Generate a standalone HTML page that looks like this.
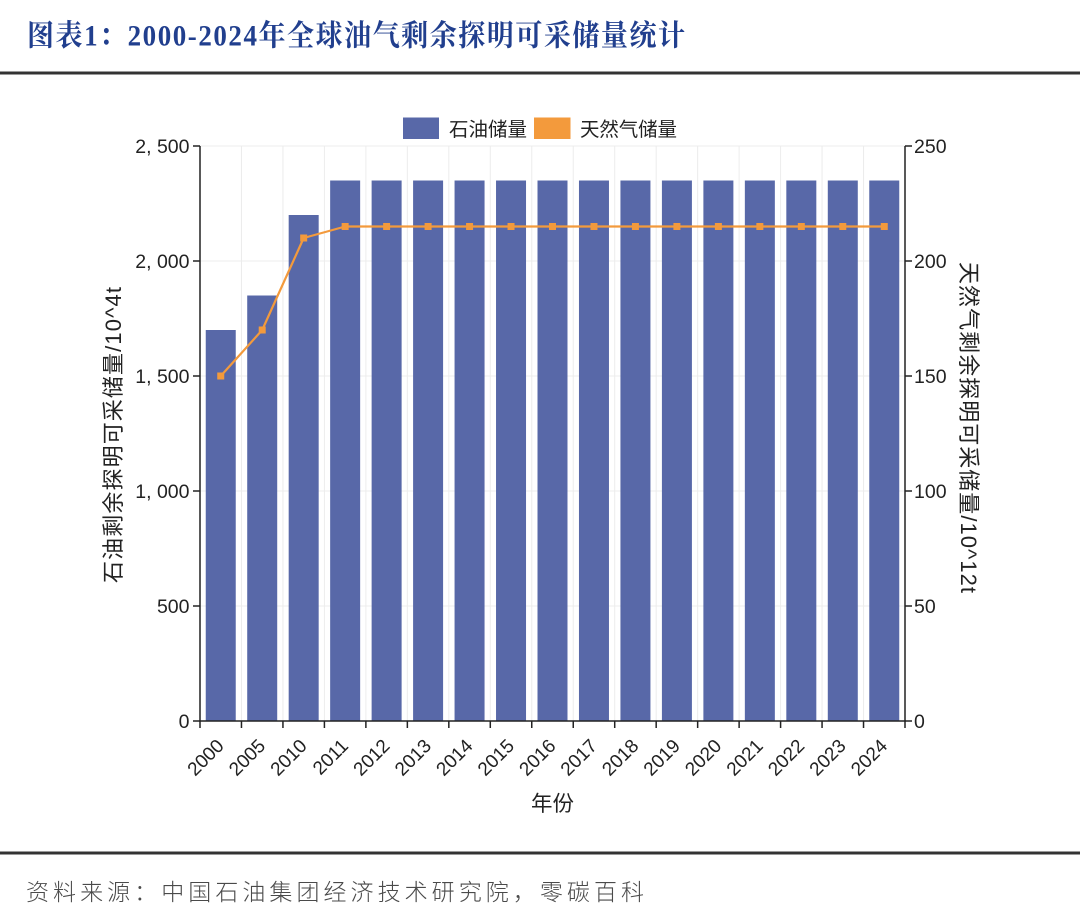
<!DOCTYPE html>
<html>
<head>
<meta charset="utf-8">
<style>
  html, body { margin: 0; padding: 0; background: #ffffff; }
  body { width: 1080px; height: 924px; overflow: hidden; }
  svg { display: block; }
  .sans { font-family: "Liberation Sans", "Noto Sans CJK SC", sans-serif; }
  .cjk { font-family: "Liberation Sans", "Noto Sans CJK SC", sans-serif; }
  .serif { font-family: "Liberation Serif", "Noto Serif CJK SC", serif; }
</style>
</head>
<body>
<svg width="1080" height="924" viewBox="0 0 1080 924" xmlns="http://www.w3.org/2000/svg">
  <rect x="0" y="0" width="1080" height="924" fill="#ffffff"/>

  <!-- Title -->
  <g transform="translate(0,45.5) scale(1,1.1)">
    <text class="serif" x="27" y="0" font-size="27" font-weight="bold" fill="#213f8e" textLength="658" lengthAdjust="spacing">图表1：2000-2024年全球油气剩余探明可采储量统计</text>
  </g>
  <rect x="0" y="71.5" width="1080" height="3" fill="#333333"/>

  <!-- Legend -->
  <rect x="403" y="117.5" width="36" height="21.5" fill="#5868a8"/>
  <text class="cjk" x="449" y="136" font-size="19.5" fill="#222" textLength="78" lengthAdjust="spacing">石油储量</text>
  <rect x="534" y="117.5" width="36.5" height="21.5" fill="#f39a3c"/>
  <text class="cjk" x="580" y="136" font-size="19.5" fill="#222" textLength="97" lengthAdjust="spacing">天然气储量</text>

  <!-- Grid -->
  <g stroke="#ececec" stroke-width="1">
    <line x1="200" y1="146" x2="905" y2="146"/>
    <line x1="200" y1="261" x2="905" y2="261"/>
    <line x1="200" y1="376" x2="905" y2="376"/>
    <line x1="200" y1="491" x2="905" y2="491"/>
    <line x1="200" y1="606" x2="905" y2="606"/>
    <line x1="241.47" y1="146" x2="241.47" y2="721"/>
    <line x1="282.94" y1="146" x2="282.94" y2="721"/>
    <line x1="324.41" y1="146" x2="324.41" y2="721"/>
    <line x1="365.88" y1="146" x2="365.88" y2="721"/>
    <line x1="407.35" y1="146" x2="407.35" y2="721"/>
    <line x1="448.82" y1="146" x2="448.82" y2="721"/>
    <line x1="490.29" y1="146" x2="490.29" y2="721"/>
    <line x1="531.76" y1="146" x2="531.76" y2="721"/>
    <line x1="573.24" y1="146" x2="573.24" y2="721"/>
    <line x1="614.71" y1="146" x2="614.71" y2="721"/>
    <line x1="656.18" y1="146" x2="656.18" y2="721"/>
    <line x1="697.65" y1="146" x2="697.65" y2="721"/>
    <line x1="739.12" y1="146" x2="739.12" y2="721"/>
    <line x1="780.59" y1="146" x2="780.59" y2="721"/>
    <line x1="822.06" y1="146" x2="822.06" y2="721"/>
    <line x1="863.53" y1="146" x2="863.53" y2="721"/>
  </g>

  <!-- Bars -->
  <g fill="#5868a8">
    <rect x="205.74" y="330" width="30" height="391"/>
    <rect x="247.21" y="295.5" width="30" height="425.5"/>
    <rect x="288.68" y="215" width="30" height="506"/>
    <rect x="330.15" y="180.5" width="30" height="540.5"/>
    <rect x="371.62" y="180.5" width="30" height="540.5"/>
    <rect x="413.09" y="180.5" width="30" height="540.5"/>
    <rect x="454.56" y="180.5" width="30" height="540.5"/>
    <rect x="496.03" y="180.5" width="30" height="540.5"/>
    <rect x="537.5" y="180.5" width="30" height="540.5"/>
    <rect x="578.97" y="180.5" width="30" height="540.5"/>
    <rect x="620.44" y="180.5" width="30" height="540.5"/>
    <rect x="661.91" y="180.5" width="30" height="540.5"/>
    <rect x="703.38" y="180.5" width="30" height="540.5"/>
    <rect x="744.85" y="180.5" width="30" height="540.5"/>
    <rect x="786.32" y="180.5" width="30" height="540.5"/>
    <rect x="827.79" y="180.5" width="30" height="540.5"/>
    <rect x="869.26" y="180.5" width="30" height="540.5"/>
  </g>

  <!-- Gas line -->
  <polyline fill="none" stroke="#f39a3c" stroke-width="2.2" stroke-linejoin="round"
    points="220.74,376 262.21,330 303.68,238 345.15,226.5 386.62,226.5 428.09,226.5 469.56,226.5 511.03,226.5 552.5,226.5 593.97,226.5 635.44,226.5 676.91,226.5 718.38,226.5 759.85,226.5 801.32,226.5 842.79,226.5 884.26,226.5"/>
  <g fill="#f39a3c">
    <rect x="217.24" y="372.5" width="7" height="7"/>
    <rect x="258.71" y="326.5" width="7" height="7"/>
    <rect x="300.18" y="234.5" width="7" height="7"/>
    <rect x="341.65" y="223" width="7" height="7"/>
    <rect x="383.12" y="223" width="7" height="7"/>
    <rect x="424.59" y="223" width="7" height="7"/>
    <rect x="466.06" y="223" width="7" height="7"/>
    <rect x="507.53" y="223" width="7" height="7"/>
    <rect x="549" y="223" width="7" height="7"/>
    <rect x="590.47" y="223" width="7" height="7"/>
    <rect x="631.94" y="223" width="7" height="7"/>
    <rect x="673.41" y="223" width="7" height="7"/>
    <rect x="714.88" y="223" width="7" height="7"/>
    <rect x="756.35" y="223" width="7" height="7"/>
    <rect x="797.82" y="223" width="7" height="7"/>
    <rect x="839.29" y="223" width="7" height="7"/>
    <rect x="880.76" y="223" width="7" height="7"/>
  </g>

  <!-- Axes -->
  <g stroke="#222" stroke-width="1.5" fill="none">
    <line x1="200" y1="146" x2="200" y2="721.75"/>
    <line x1="905" y1="146" x2="905" y2="721.75"/>
    <line x1="199.25" y1="721" x2="905.75" y2="721"/>
    <line x1="193" y1="146" x2="200" y2="146"/>
    <line x1="193" y1="261" x2="200" y2="261"/>
    <line x1="193" y1="376" x2="200" y2="376"/>
    <line x1="193" y1="491" x2="200" y2="491"/>
    <line x1="193" y1="606" x2="200" y2="606"/>
    <line x1="193" y1="721" x2="200" y2="721"/>
    <line x1="905" y1="146" x2="912" y2="146"/>
    <line x1="905" y1="261" x2="912" y2="261"/>
    <line x1="905" y1="376" x2="912" y2="376"/>
    <line x1="905" y1="491" x2="912" y2="491"/>
    <line x1="905" y1="606" x2="912" y2="606"/>
    <line x1="905" y1="721" x2="912" y2="721"/>
    <line x1="200" y1="721" x2="200" y2="728"/>
    <line x1="241.47" y1="721" x2="241.47" y2="728"/>
    <line x1="282.94" y1="721" x2="282.94" y2="728"/>
    <line x1="324.41" y1="721" x2="324.41" y2="728"/>
    <line x1="365.88" y1="721" x2="365.88" y2="728"/>
    <line x1="407.35" y1="721" x2="407.35" y2="728"/>
    <line x1="448.82" y1="721" x2="448.82" y2="728"/>
    <line x1="490.29" y1="721" x2="490.29" y2="728"/>
    <line x1="531.76" y1="721" x2="531.76" y2="728"/>
    <line x1="573.24" y1="721" x2="573.24" y2="728"/>
    <line x1="614.71" y1="721" x2="614.71" y2="728"/>
    <line x1="656.18" y1="721" x2="656.18" y2="728"/>
    <line x1="697.65" y1="721" x2="697.65" y2="728"/>
    <line x1="739.12" y1="721" x2="739.12" y2="728"/>
    <line x1="780.59" y1="721" x2="780.59" y2="728"/>
    <line x1="822.06" y1="721" x2="822.06" y2="728"/>
    <line x1="863.53" y1="721" x2="863.53" y2="728"/>
    <line x1="905" y1="721" x2="905" y2="728"/>
  </g>

  <!-- Left tick labels -->
  <g class="sans" font-size="19.5" fill="#222" text-anchor="end">
    <text x="189.5" y="153">2, 500</text>
    <text x="189.5" y="268">2, 000</text>
    <text x="189.5" y="383">1, 500</text>
    <text x="189.5" y="498">1, 000</text>
    <text x="189.5" y="613">500</text>
    <text x="189.5" y="728">0</text>
  </g>

  <!-- Right tick labels -->
  <g class="sans" font-size="19.5" fill="#222">
    <text x="914" y="153">250</text>
    <text x="914" y="268">200</text>
    <text x="914" y="383">150</text>
    <text x="914" y="498">100</text>
    <text x="914" y="613">50</text>
    <text x="914" y="728">0</text>
  </g>

  <!-- X tick labels -->
  <g class="sans" font-size="19" fill="#222" text-anchor="end">
    <text transform="translate(225,747) rotate(-45)">2000</text>
    <text transform="translate(266.5,747) rotate(-45)">2005</text>
    <text transform="translate(308,747) rotate(-45)">2010</text>
    <text transform="translate(349.4,747) rotate(-45)">2011</text>
    <text transform="translate(390.9,747) rotate(-45)">2012</text>
    <text transform="translate(432.4,747) rotate(-45)">2013</text>
    <text transform="translate(473.8,747) rotate(-45)">2014</text>
    <text transform="translate(515.3,747) rotate(-45)">2015</text>
    <text transform="translate(556.8,747) rotate(-45)">2016</text>
    <text transform="translate(598.2,747) rotate(-45)">2017</text>
    <text transform="translate(639.7,747) rotate(-45)">2018</text>
    <text transform="translate(681.2,747) rotate(-45)">2019</text>
    <text transform="translate(722.6,747) rotate(-45)">2020</text>
    <text transform="translate(764.1,747) rotate(-45)">2021</text>
    <text transform="translate(805.6,747) rotate(-45)">2022</text>
    <text transform="translate(847,747) rotate(-45)">2023</text>
    <text transform="translate(888.5,747) rotate(-45)">2024</text>
  </g>

  <!-- Axis titles -->
  <text class="cjk" x="552.5" y="811" font-size="21.5" fill="#222" text-anchor="middle">年份</text>
  <text class="cjk" transform="translate(121,435) rotate(-90)" font-size="22" fill="#222" text-anchor="middle" textLength="296" lengthAdjust="spacing">石油剩余探明可采储量/10^4t</text>
  <text class="cjk" transform="translate(961,427.5) rotate(90)" font-size="22" fill="#222" text-anchor="middle" textLength="331" lengthAdjust="spacing">天然气剩余探明可采储量/10^12t</text>

  <!-- Footer -->
  <rect x="0" y="851.5" width="1080" height="3" fill="#333333"/>
  <text class="cjk" x="26" y="900" font-size="23" font-weight="300" fill="#4a4a4a" textLength="618" lengthAdjust="spacing">资料来源：中国石油集团经济技术研究院，零碳百科</text>
</svg>
</body>
</html>
